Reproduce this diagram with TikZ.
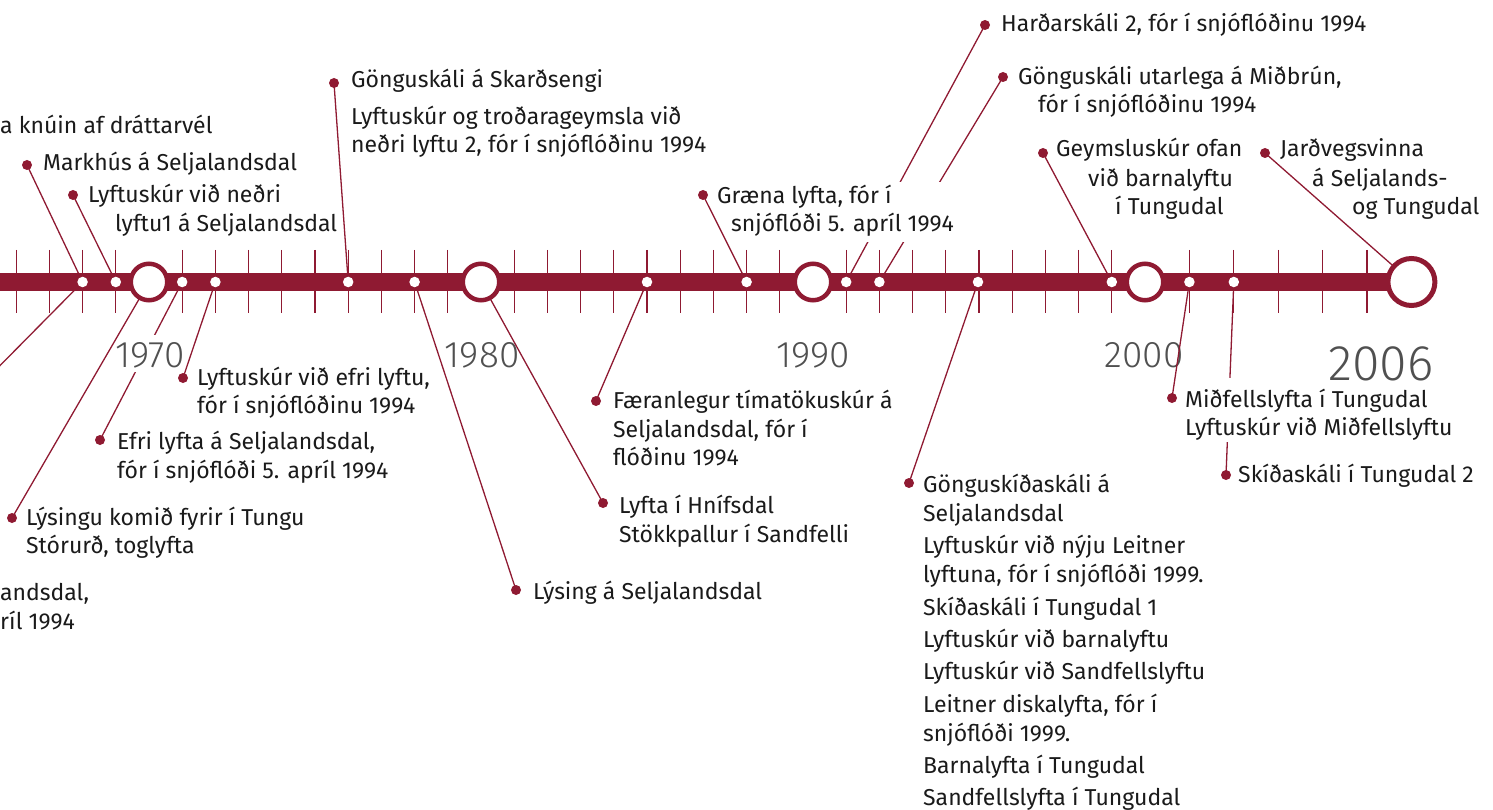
\documentclass[tikz,border=0pt]{standalone}
\usepackage{fontspec}
\setmainfont{Fira Sans}[Numbers=Lining]
\newfontfamily\yearfont{Fira Sans Light}[Numbers=Lining]
\definecolor{barc}{HTML}{8F1A32}
\definecolor{ink}{HTML}{1A1A1A}
\definecolor{yr}{HTML}{505050}
\begin{document}
\begin{tikzpicture}[x=1pt,y=-1pt,
  tick/.style={draw=barc, line width=1.1pt},
  conn/.style={draw=barc, line width=1.3pt},
  wdot/.style={circle, fill=white, minimum size=10.5pt, inner sep=0pt},
  ring/.style={circle, draw=barc, line width=4.5pt, fill=white, minimum size=36.5pt, inner sep=0pt},
  bigring/.style={circle, draw=barc, line width=5pt, fill=white, minimum size=47pt, inner sep=0pt},
  ldot/.style={circle, fill=barc, minimum size=10pt, inner sep=0pt},
  lab/.style={anchor=base west, inner sep=0pt, text=ink, font=\fontsize{23}{27}\selectfont},
  labr/.style={lab, anchor=base east},
  year/.style={anchor=base, inner sep=0pt, text=yr, font=\yearfont\fontsize{37}{40}\selectfont},
  bigyear/.style={year, font=\yearfont\fontsize{50}{54}\selectfont}]
\useasboundingbox (0,0) rectangle (1493,810);
\clip (0,0) rectangle (1493,810);
% ticks
\foreach \k in {-5,...,29}{
  \pgfmathtruncatemacro\m{mod(\k+100,10)}
  \ifnum\m=0 \else \draw[tick] (149+33.2*\k,250) -- ++(0,63); \fi
}
\foreach \k in {1,...,5}{ \draw[tick] (1145+44.4*\k,250) -- ++(0,63); }
% bar points
\coordinate (barL) at (-5,282);
\coordinate (b68) at (82.6,282);
\coordinate (b69) at (115.8,282);
\coordinate (c70) at (149,282);
\coordinate (b71) at (182.2,282);
\coordinate (b72) at (215.4,282);
\coordinate (b76) at (348.2,282);
\coordinate (b78) at (414.6,282);
\coordinate (c80) at (481,282);
\coordinate (b85) at (647,282);
\coordinate (b88) at (746.6,282);
\coordinate (c90) at (813,282);
\coordinate (b91) at (846.2,282);
\coordinate (b92) at (879.4,282);
\coordinate (b95) at (978,282);
\coordinate (b99) at (1111.8,282);
\coordinate (c00) at (1145,282);
\coordinate (b01) at (1189.4,282);
\coordinate (b02) at (1233.8,282);
\coordinate (c06) at (1411.4,282);
% label points
\coordinate (pMark) at (27,165);
\coordinate (pNedri) at (73,195);
\coordinate (pSkard) at (334,83);
\coordinate (pGraena) at (703,195);
\coordinate (pHard) at (985,25);
\coordinate (pUtar) at (1003,77);
\coordinate (pGeyms) at (1043,153);
\coordinate (pJard) at (1265,153);
\coordinate (pEfriSk) at (183,378);
\coordinate (pEfri) at (100,440);
\coordinate (pLysT) at (12,518);
\coordinate (pLys) at (516,590);
\coordinate (pHnif) at (603,503);
\coordinate (pFaer) at (596,401);
\coordinate (pGong) at (909,483);
\coordinate (pMidf) at (1172,398);
\coordinate (pSki) at (1226,475);
\coordinate (offA) at (-120,487);
% year labels under the connectors
\node[year] (y80) at (482,367) {1980};
\node[year] (y90) at (813,367) {1990};
\node[year] (y00) at (1144,367) {2000};
\node[bigyear] (y06) at (1381,380) {2006};
% connectors
\draw[conn] (pMark) -- (b68);
\draw[conn] (offA) -- (b68);
\draw[conn] (pNedri) -- (b69);
\draw[conn] (pLysT) -- (c70);
\draw[conn] (pEfri) -- (b71);
\draw[conn] (pEfriSk) -- (b72);
\draw[conn] (pSkard) -- (b76);
\draw[conn] (pLys) -- (b78);
\draw[conn] (pHnif) -- (c80);
\draw[conn] (pFaer) -- (b85);
\draw[conn] (pGraena) -- (b88);
\draw[conn] (pHard) -- (b91);
\draw[conn] (pUtar) -- (b92);
\draw[conn] (pGong) -- (b95);
\draw[conn] (pGeyms) -- (b99);
\draw[conn] (pMidf) -- (b01);
\draw[conn] (pSki) -- (b02);
\draw[conn] (pJard) -- (c06);
% bar
\draw[barc, line width=18pt] (barL) -- (c06);
\foreach \p in {b68,b69,b71,b72,b76,b78,b85,b88,b91,b92,b95,b99,b01,b02}{
  \node[wdot] (w\p) at (\p) {};
}
\node[ring] (r70) at (c70) {};
\node[ring] (r80) at (c80) {};
\node[ring] (r90) at (c90) {};
\node[ring] (r00) at (c00) {};
\node[bigring] (r06) at (c06) {};
% label dots
\foreach \p in {pMark,pNedri,pSkard,pGraena,pHard,pUtar,pGeyms,pJard,pEfriSk,pEfri,pLysT,pLys,pHnif,pFaer,pGong,pMidf,pSki}{
  \node[ldot] (d\p) at (\p) {};
}
% white masks where texts hide connectors
\fill[white] (125,335) rectangle (165,372);
\fill[white] (735,182) rectangle (962,242);
\fill[white] (1205,378) rectangle (1255,442);
\node[year] (y70) at (150,367) {1970};
% texts
\node[lab] (tA) at (0,134) {a knúin af dráttarvél};
\node[lab] (tMark) at (43,171) {Markhús á Seljalandsdal};
\node[lab] (tNe1) at (88,203) {Lyftuskúr við neðri};
\node[lab] (tNe2) at (115,232) {lyftu1 á Seljalandsdal};
\node[lab] (tSk1) at (351,88) {Gönguskáli á Skarðsengi};
\node[lab] (tSk2) at (351,125) {Lyftuskúr og troðarageymsla við};
\node[lab] (tSk3) at (351,153) {neðri lyftu 2, fór í snjóflóðinu 1994};
\node[lab] (tGr1) at (717,204) {Græna lyfta, fór í};
\node[lab] (tGr2) at (731,232) {snjóflóði 5. apríl 1994};
\node[lab] (tHa) at (1001,32) {Harðarskáli 2, fór í snjóflóðinu 1994};
\node[lab] (tUt1) at (1018,85) {Gönguskáli utarlega á Miðbrún,};
\node[lab] (tUt2) at (1038,113) {fór í snjóflóðinu 1994};
\node[lab] (tGe1) at (1056,157) {Geymsluskúr ofan};
\node[lab] (tGe2) at (1088,187) {við barnalyftu};
\node[lab] (tGe3) at (1115,215) {í Tungudal};
\node[lab] (tJa1) at (1280,157) {Jarðvegsvinna};
\node[lab] (tJa2) at (1312,187) {á Seljalands-};
\node[lab] (tJa3) at (1352,215) {og Tungudal};
\node[lab] (tEs1) at (197,385) {Lyftuskúr við efri lyftu,};
\node[lab] (tEs2) at (197,413) {fór í snjóflóðinu 1994};
\node[lab] (tEf1) at (117,449) {Efri lyfta á Seljalandsdal,};
\node[lab] (tEf2) at (117,478) {fór í snjóflóði 5. apríl 1994};
\node[lab] (tLt1) at (26,525) {Lýsingu komið fyrir í Tungu};
\node[lab] (tLt2) at (26,553) {Stórurð, toglyfta};
\node[lab] (tB1) at (0,600) {andsdal,};
\node[lab] (tB2) at (0,629) {ríl 1994};
\node[lab] (tLys) at (533,599) {Lýsing á Seljalandsdal};
\node[lab] (tHn1) at (619,513) {Lyfta í Hnífsdal};
\node[lab] (tHn2) at (619,542) {Stökkpallur í Sandfelli};
\node[lab] (tFa1) at (613,408) {Færanlegur tímatökuskúr á};
\node[lab] (tFa2) at (613,437) {Seljalandsdal, fór í};
\node[lab] (tFa3) at (613,465) {flóðinu 1994};
\node[lab] (tGo1) at (923,492) {Gönguskíðaskáli á};
\node[lab] (tGo2) at (923,521) {Seljalandsdal};
\node[lab] (tGo3) at (923,553) {Lyftuskúr við nýju Leitner};
\node[lab] (tGo4) at (923,582) {lyftuna, fór í snjóflóði 1999.};
\node[lab] (tGo5) at (923,615) {Skíðaskáli í Tungudal 1};
\node[lab] (tGo6) at (923,647) {Lyftuskúr við barnalyftu};
\node[lab] (tGo7) at (923,679) {Lyftuskúr við Sandfellslyftu};
\node[lab] (tGo8) at (923,712) {Leitner diskalyfta, fór í};
\node[lab] (tGo9) at (923,741) {snjóflóði 1999.};
\node[lab] (tGo10) at (923,773) {Barnalyfta í Tungudal};
\node[lab] (tGo11) at (923,805) {Sandfellslyfta í Tungudal};
\node[lab] (tMi1) at (1185,407) {Miðfellslyfta í Tungudal};
\node[lab] (tMi2) at (1185,435) {Lyftuskúr við Miðfellslyftu};
\node[lab] (tSki) at (1238,482) {Skíðaskáli í Tungudal 2};
\end{tikzpicture}
\end{document}
